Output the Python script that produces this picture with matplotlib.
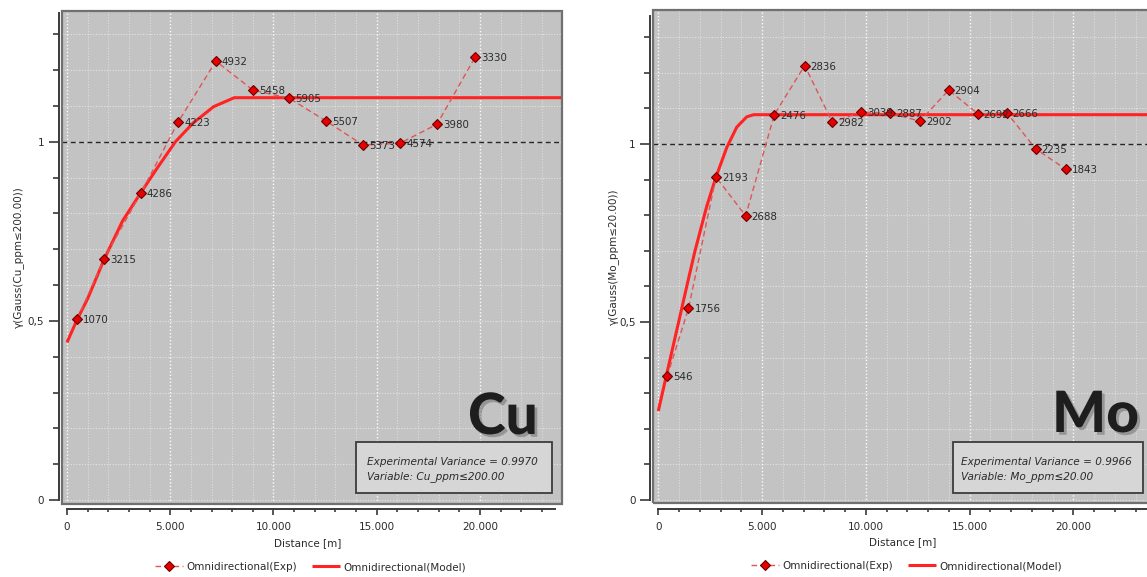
import numpy as np
import matplotlib
matplotlib.use("Agg")
import matplotlib.pyplot as plt
from matplotlib.patches import Rectangle
import matplotlib.patheffects as pe
from matplotlib.ticker import FixedLocator, FixedFormatter, MultipleLocator

# ---------------- data ----------------
cu_lag = [500, 1790, 3580, 5380, 7210, 9010, 10750, 12540, 14330, 16130, 17920, 19760]
cu_gamma = [0.505, 0.673, 0.857, 1.055, 1.225, 1.144, 1.122, 1.058, 0.991, 0.996, 1.049, 1.236]
cu_pairs = [1070, 3215, 4286, 4223, 4932, 5458, 5905, 5507, 5373, 4574, 3980, 3330]
cu_model_x = [0, 500, 1000, 1800, 2700, 3600, 4350, 5250, 6100, 7100, 8100, 24000]
cu_model_y = [0.44, 0.505, 0.562, 0.672, 0.780, 0.860, 0.925, 1.000, 1.052, 1.098, 1.123, 1.123]

mo_lag = [430, 1455, 2780, 4210, 5590, 7055, 8385, 9770, 11165, 12610, 13995, 15395, 16790, 18190, 19635]
mo_gamma = [0.348, 0.538, 0.907, 0.798, 1.082, 1.220, 1.061, 1.089, 1.086, 1.064, 1.151, 1.085, 1.088, 0.986, 0.929]
mo_pairs = [546, 1756, 2193, 2688, 2476, 2836, 2982, 3039, 2887, 2902, 2904, 2692, 2666, 2235, 1843]
mo_model_x = [0, 430, 980, 1450, 1770, 2330, 2780, 3300, 3780, 4260, 4600, 24000]
mo_model_y = [0.25, 0.36, 0.50, 0.62, 0.70, 0.824, 0.907, 0.99, 1.047, 1.076, 1.082, 1.082]

xtick_values = [0, 5000, 10000, 15000, 20000]
xtick_labels = ["0", "5.000", "10.000", "15.000", "20.000"]
ytick_values = [0, 0.5, 1]
ytick_labels = ["0", "0,5", "1"]

panels = [
    dict(name="Cu", lag=cu_lag, gamma=cu_gamma, pairs=cu_pairs, mx=cu_model_x, my=cu_model_y,
         ylabel="γ(Gauss(Cu_ppm≤200.00))",
         info=["Experimental Variance = 0.9970", "Variable: Cu_ppm≤200.00"]),
    dict(name="Mo", lag=mo_lag, gamma=mo_gamma, pairs=mo_pairs, mx=mo_model_x, my=mo_model_y,
         ylabel="γ(Gauss(Mo_ppm≤20.00))",
         info=["Experimental Variance = 0.9966", "Variable: Mo_ppm≤20.00"]),
]

# ---------------- layout (pixels) ----------------
W, H = 1147, 577
fig = plt.figure(figsize=(W / 100, H / 100), dpi=100)
fig.patch.set_facecolor("white")

layouts = [
    dict(frame=(61.5, 11, 561.7, 504), xlim=(-266, 23956), ylim=(-0.011, 1.365),
         lsp=2.0, bsp=3.6, xb=23630, ylc=-0.075, xlc=0.492, legx=0.498,
         box=(356, 442, 552, 493), txt=(367, 462, 477), big=(468, 434)),
    dict(frame=(652.5, 10, 1150, 503), xlim=(-280, 23697), ylim=(-0.0084, 1.376),
         lsp=1.8, bsp=4.3, xb=24500, ylc=-0.067, xlc=0.5035, legx=0.511,
         box=(953, 442, 1143, 493), txt=(961, 462, 477), big=(1052, 432)),
]

TXT = "#2b2b2b"
FS = 7.5

for p, L in zip(panels, layouts):
    x0, y0, x1, y1 = L["frame"]
    ax = fig.add_axes([x0 / W, 1 - y1 / H, (x1 - x0) / W, (y1 - y0) / H])
    ax.set_facecolor("#c3c3c3")
    ax.set_xlim(*L["xlim"])
    ax.set_ylim(*L["ylim"])

    # spines
    for s in ("top", "right"):
        ax.spines[s].set_visible(False)
    ax.spines["left"].set_position(("outward", L["lsp"]))
    ax.spines["bottom"].set_position(("outward", L["bsp"]))
    ax.spines["left"].set_bounds(0, 1.36)
    ax.spines["bottom"].set_bounds(0, L["xb"])
    for s in ("left", "bottom"):
        ax.spines[s].set_color("#3a3a3a")
        ax.spines[s].set_linewidth(1.4)
    ax.add_patch(Rectangle((0, 0), 1, 1, transform=ax.transAxes, fill=False,
                           edgecolor="#707070", lw=1.6, clip_on=False, zorder=6))

    # ticks
    ax.xaxis.set_major_locator(FixedLocator(xtick_values))
    ax.xaxis.set_major_formatter(FixedFormatter(xtick_labels))
    ax.xaxis.set_minor_locator(MultipleLocator(1000))
    ax.yaxis.set_major_locator(FixedLocator(ytick_values))
    ax.yaxis.set_major_formatter(FixedFormatter(ytick_labels))
    ax.yaxis.set_minor_locator(FixedLocator(np.round(np.arange(0, 1.31, 0.1), 2)))
    ax.tick_params(axis="x", which="major", length=4.2, width=1.2, color="#3a3a3a",
                   labelsize=FS, labelcolor=TXT, pad=5)
    ax.tick_params(axis="x", which="minor", length=2.2, width=1.2, color="#3a3a3a")
    ax.tick_params(axis="y", which="major", length=7.5, width=1.2, color="#3a3a3a",
                   labelsize=FS, labelcolor=TXT, pad=3)
    ax.tick_params(axis="y", which="minor", length=4.0, width=1.2, color="#3a3a3a")

    # grid
    ax.grid(True, which="major", axis="x", color="white", ls=(0, (1, 1.5)), lw=1.0, alpha=0.95)
    ax.grid(True, which="minor", axis="x", color="white", ls=(0, (1, 1.5)), lw=0.8, alpha=0.45)
    ax.grid(True, which="both", axis="y", color="white", ls=(0, (1, 1.5)), lw=0.8, alpha=0.55)
    ax.set_axisbelow(True)

    # sill line
    ax.axhline(1.0, color="#262626", ls=(0, (3.5, 2.5)), lw=1.0, zorder=2)

    # model
    ax.plot(p["mx"], p["my"], color="#ff2323", lw=2.2, zorder=3, solid_capstyle="butt",
            solid_joinstyle="round", label="Omnidirectional(Model)")
    # experimental
    ax.plot(p["lag"], p["gamma"], color="#e05555", ls=(0, (4, 2.5)), lw=1.0, zorder=4,
            marker="D", ms=5.6, mfc="#e60000", mec="#6a0000", mew=0.8,
            label="Omnidirectional(Exp)")
    for xv, yv, n in zip(p["lag"], p["gamma"], p["pairs"]):
        ax.annotate(str(n), (xv, yv), xytext=(6, -1), textcoords="offset pixels",
                    ha="left", va="center", fontsize=7.4, color=TXT, zorder=5)

    # labels
    ax.set_xlabel("Distance [m]", fontsize=FS, color=TXT)
    ax.xaxis.set_label_coords(L["xlc"], -0.069)
    ax.set_ylabel(p["ylabel"], fontsize=FS, color=TXT)
    ax.yaxis.set_label_coords(L["ylc"], 0.5)

    # legend (Exp first)
    h, l = ax.get_legend_handles_labels()
    ax.legend([h[1], h[0]], [l[1], l[0]], loc="center", bbox_to_anchor=(L["legx"], -0.128),
              ncol=2, frameon=False, fontsize=FS, handlelength=2.7, handletextpad=0.35,
              columnspacing=1.4, labelcolor=TXT)

    # info box
    bx0, by0, bx1, by1 = L["box"]
    fig.add_artist(Rectangle((bx0 / W, 1 - by1 / H), (bx1 - bx0) / W, (by1 - by0) / H,
                             transform=fig.transFigure, facecolor="#d6d6d6",
                             edgecolor="#3c3c3c", lw=1.3, zorder=7))
    tx, ty1, ty2 = L["txt"]
    fig.text(tx / W, 1 - ty1 / H, p["info"][0], fontsize=7.6, style="italic",
             color=TXT, va="center", ha="left", zorder=8)
    fig.text(tx / W, 1 - ty2 / H, p["info"][1], fontsize=7.6, style="italic",
             color=TXT, va="center", ha="left", zorder=8)

    # big element label
    gx, gy = L["big"]
    fig.text(gx / W, 1 - gy / H, p["name"], fontsize=41, fontweight="black",
             family=["Lato", "DejaVu Sans"], color="#1e1e1e", ha="left", va="baseline", zorder=8,
             path_effects=[pe.withSimplePatchShadow(offset=(2, -2), shadow_rgbFace="#777777", alpha=0.6)])

fig.savefig("out.png", dpi=100)
